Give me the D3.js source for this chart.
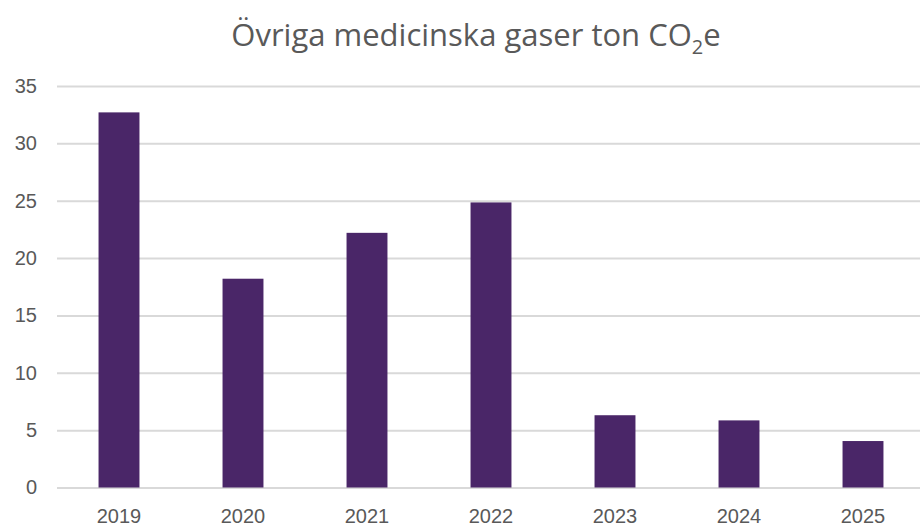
<!DOCTYPE html>
<html>
<head>
<meta charset="utf-8">
<script src="https://cdn.jsdelivr.net/npm/d3@7"></script>
<style>
  body { margin: 0; background: #fff; }
  svg { display: block; font-family: "Open Sans", "Liberation Sans", sans-serif; }
</style>
</head>
<body>
<div id="chart"></div>
<script>
var years = ["2019", "2020", "2021", "2022", "2023", "2024", "2025"],
    values = [32.7, 18.2, 22.2, 24.85, 6.3, 5.85, 4.05],
    yTicks = [0, 5, 10, 15, 20, 25, 30, 35];

var w = 920,
    h = 529,
    mLeft = 57,
    mRight = 925,
    mTop = 86,
    mBottom = 487.5;

var x = d3.scaleBand().domain(years).range([mLeft, mRight]).paddingInner(0.67).paddingOuter(0.335),
    y = d3.scaleLinear().domain([0, 35]).range([mBottom, mTop]);

var svg = d3.select("#chart").append("svg")
    .attr("width", w)
    .attr("height", h);

// gridlines + y labels
svg.append("g")
    .attr("transform", "translate(" + mLeft + ",0)")
    .call(d3.axisLeft(y).tickValues(yTicks).tickSize(-(w - mLeft)).tickPadding(20))
    .call(function(g) {
      g.select(".domain").remove();
      g.selectAll(".tick line").attr("stroke", "#d9d9d9").attr("stroke-width", 2);
      g.selectAll(".tick text").attr("fill", "#595959").attr("font-size", 20).attr("x", -20);
    });

// bars
svg.append("g").selectAll("rect")
    .data(values)
    .enter().append("rect")
    .attr("x", function(d, i) { return x(years[i]); })
    .attr("y", function(d) { return y(d); })
    .attr("width", x.bandwidth())
    .attr("height", function(d) { return y(0) - y(d); })
    .attr("fill", "#4a2668");

// x axis labels
svg.append("g")
    .attr("transform", "translate(0," + mBottom + ")")
    .call(d3.axisBottom(x).tickSize(0).tickPadding(21))
    .call(function(g) {
      g.select(".domain").remove();
      g.selectAll(".tick text").attr("fill", "#595959").attr("font-size", 20);
    });

// title
var title = svg.append("text")
    .attr("x", 476)
    .attr("y", 46)
    .attr("text-anchor", "middle")
    .attr("fill", "#595959")
    .attr("font-size", 31);
title.append("tspan").text("Övriga medicinska gaser ton CO");
title.append("tspan").attr("font-size", 20).attr("dy", 8).text("2");
title.append("tspan").attr("dy", -8).text("e");
</script>
</body>
</html>
